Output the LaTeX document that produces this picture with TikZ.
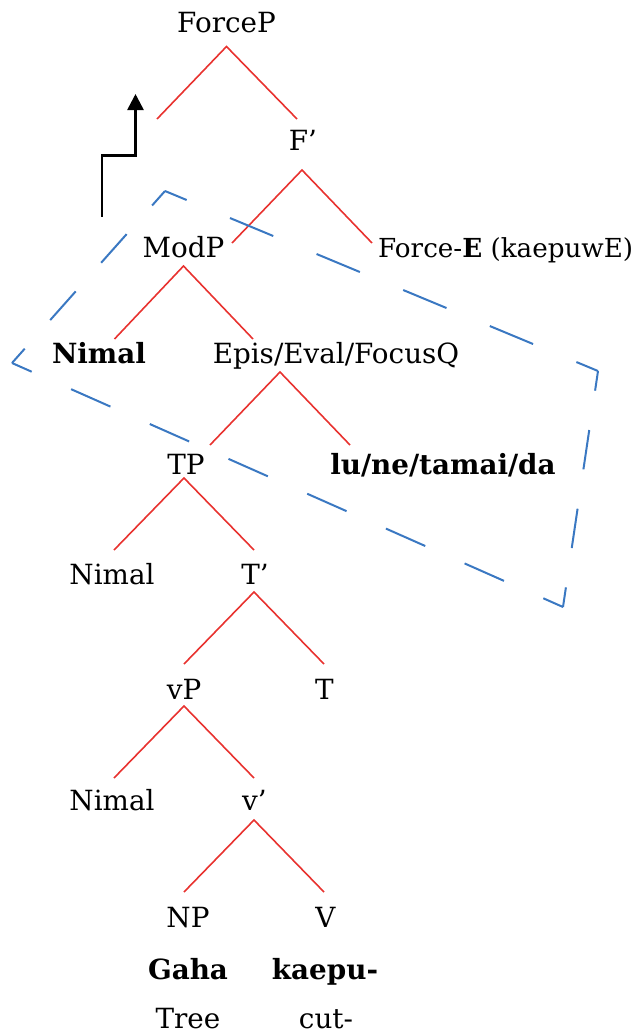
\documentclass[tikz,border=0pt]{standalone}
\usepackage{fontspec}
\setmainfont{DejaVu Serif}
\usetikzlibrary{arrows.meta}
\definecolor{treered}{HTML}{E8322F}
\definecolor{boxblue}{HTML}{3A78C2}
\begin{document}
\begin{tikzpicture}[x=1pt,y=-1pt,
  lbl/.style={inner sep=0pt, anchor=base, font=\fontsize{27.8}{32}\selectfont},
  lblw/.style={lbl, anchor=base west, font=\fontsize{26.2}{32}\selectfont},
  branch/.style={draw=treered, line width=1.6pt},
  boxedge/.style={draw=boxblue, line width=2pt},
  moveline/.style={draw=black, line width=2.6pt, -{Triangle[width=16pt,length=16pt]}}]
\useasboundingbox (0,0) rectangle (636,1034);
% labels
\node[lbl] (forceP) at (226.5,32) {ForceP};
\node[lbl] (fbar) at (303,150) {F’};
\node[lbl] (modP) at (183.5,257) {ModP};
\node[lblw] (forceE) at (378,257) {Force-\textbf{E} (kaepuwE)};
\node[lbl] (nimalB) at (99,363) {\textbf{Nimal}};
\node[lbl] (epis) at (336,363) {Epis/Eval/FocusQ};
\node[lbl] (tp) at (186,474) {TP};
\node[lbl] (lune) at (443,474) {\textbf{lu/ne/tamai/da}};
\node[lbl] (nimal1) at (112,584) {Nimal};
\node[lbl] (tbar) at (255,584) {T’};
\node[lbl] (vp) at (184,699) {vP};
\node[lbl] (t) at (324.5,699) {T};
\node[lbl] (nimal2) at (112,810) {Nimal};
\node[lbl] (vbar) at (254.5,810) {v’};
\node[lbl] (np) at (188,927.5) {NP};
\node[lbl] (v) at (325.5,927.5) {V};
\node[lbl] (gaha) at (188,979) {\textbf{Gaha}};
\node[lbl] (kaepu) at (325,979) {\textbf{kaepu-}};
\node[lbl] (tree) at (188,1028.5) {Tree};
\node[lbl] (cut) at (326,1028.5) {cut-};
% branch points
\coordinate (b1) at (226.5,46.5); \coordinate (b1l) at (157,119); \coordinate (b1r) at (297,119);
\coordinate (b2) at (302,170); \coordinate (b2l) at (232,243); \coordinate (b2r) at (372,243);
\coordinate (b3) at (183.5,266); \coordinate (b3l) at (114.5,339); \coordinate (b3r) at (253,339);
\coordinate (b4) at (280,372); \coordinate (b4l) at (210,445); \coordinate (b4r) at (350,445);
\coordinate (b5) at (184,478); \coordinate (b5l) at (114,550); \coordinate (b5r) at (254,550);
\coordinate (b6) at (254,592); \coordinate (b6l) at (184,664); \coordinate (b6r) at (324,664);
\coordinate (b7) at (184,706); \coordinate (b7l) at (114,778); \coordinate (b7r) at (254,778);
\coordinate (b8) at (254,820); \coordinate (b8l) at (184,892); \coordinate (b8r) at (324,892);
\foreach \i in {1,...,8}{
  \draw[branch] (b\i l) -- (b\i) -- (b\i r);
}
% dashed box
\coordinate (qa) at (165,191); \coordinate (qb) at (598,371);
\coordinate (qc) at (563,607); \coordinate (qd) at (12,363);
\draw[boxedge, dash pattern=on 46.9pt off 46.9pt, dash phase=23.45pt] (qa) -- (qb);
\draw[boxedge, dash pattern=on 39.77pt off 39.77pt, dash phase=19.88pt] (qb) -- (qc);
\draw[boxedge, dash pattern=on 43.04pt off 43.04pt, dash phase=21.52pt] (qc) -- (qd);
\draw[boxedge, dash pattern=on 38.33pt off 38.33pt, dash phase=19.17pt] (qd) -- (qa);
% movement arrow
\coordinate (mv0) at (102,216.5); \coordinate (mv1) at (102,155.5);
\coordinate (mv2) at (135.5,155.5); \coordinate (mv3) at (135.5,94);
\draw[moveline] (mv0) -- (mv1) -- (mv2) -- (mv3);
\end{tikzpicture}
\end{document}
